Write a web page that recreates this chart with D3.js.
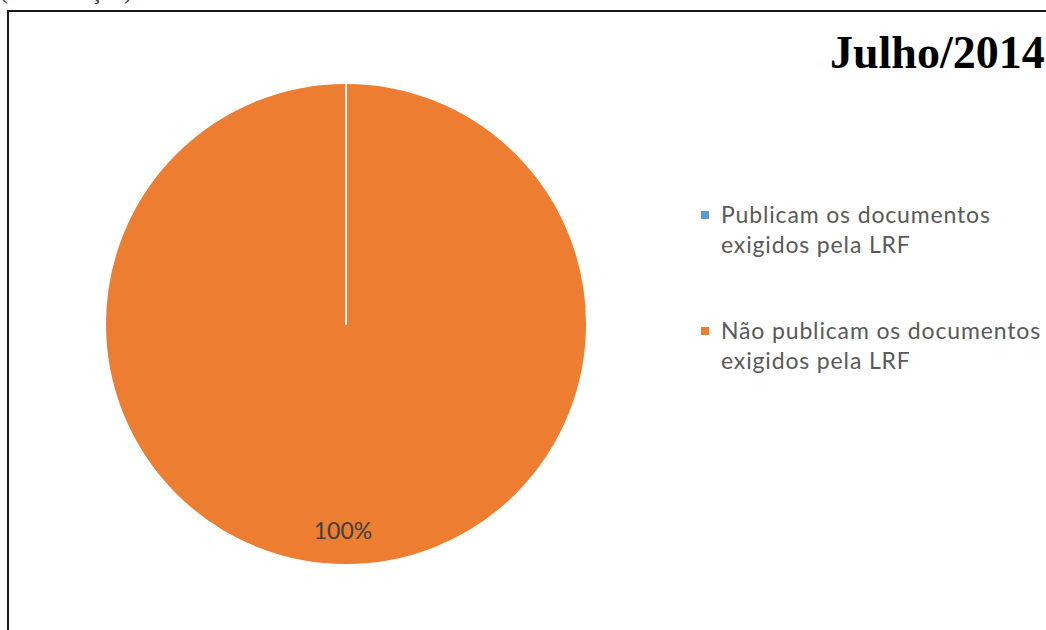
<!DOCTYPE html>
<html>
<head>
<meta charset="utf-8">
<script src="https://cdn.jsdelivr.net/npm/d3@7/dist/d3.min.js"></script>
<style>
  html, body { margin: 0; padding: 0; background: #fff; overflow: hidden; }
  svg { display: block; }
</style>
</head>
<body>
<svg id="chart" width="1046" height="630"></svg>
<script>
// Chart data
const title = "Julho/2014";
const categories = [
  ["Publicam os documentos", "exigidos pela LRF"],
  ["Não publicam os documentos", "exigidos pela LRF"]
];
const values = [0, 100];
const colors = ["#5B9BD5", "#ED7D31"];
const caption = "(continuação)";

const svg = d3.select("#chart");
const W = 1046, H = 630;

// caption line above the frame (its top runs off the page)
svg.append("text")
  .attr("x", 0).attr("y", -1)
  .attr("font-family", "Liberation Serif, Times New Roman, serif")
  .attr("font-size", 24)
  .attr("fill", "#333")
  .text(caption);

// chart frame
svg.append("rect")
  .attr("x", 8).attr("y", 11)
  .attr("width", W + 40).attr("height", H + 40)
  .attr("fill", "#fff")
  .attr("stroke", "#1a1a1a")
  .attr("stroke-width", 2);

// title
svg.append("text")
  .attr("x", 830).attr("y", 68)
  .attr("font-family", "Liberation Serif, Times New Roman, serif")
  .attr("font-weight", "bold")
  .attr("font-size", 46)
  .attr("fill", "#000")
  .text(title);

// pie
const cx = 346, cy = 324, R = 241;
const pie = d3.pie().sort(null).value(d => d);
const arcs = pie(values);
const arc = d3.arc().innerRadius(0).outerRadius(R);
const color = d3.scaleOrdinal().domain(d3.range(values.length)).range(colors);

const g = svg.append("g").attr("transform", `translate(${cx},${cy})`);
// slice fills
g.selectAll("path.slice")
  .data(arcs)
  .join("path")
  .attr("class", "slice")
  .attr("d", arc)
  .attr("fill", (d, i) => color(i));
// slice borders on top of all fills, so an empty slice still shows its edge
g.selectAll("path.edge")
  .data(arcs)
  .join("path")
  .attr("class", "edge")
  .attr("d", arc)
  .attr("fill", "none")
  .attr("stroke", "#fff")
  .attr("stroke-width", 2)
  .attr("stroke-linejoin", "round");

// data label for the non-empty slice
const total = d3.sum(values);
const fmt = d3.format(".0%");
const labelArc = d3.arc().innerRadius(R * 0.86).outerRadius(R * 0.86);
g.selectAll("text.lbl")
  .data(arcs.filter(d => d.value > 0))
  .join("text")
  .attr("class", "lbl")
  .attr("transform", d => {
    // a full circle has no meaningful centroid; put its label near the bottom
    const [x, y] = d.endAngle - d.startAngle >= 2 * Math.PI - 1e-6
      ? [0, R * 0.86]
      : labelArc.centroid(d);
    return `translate(${x - 3},${y})`;
  })
  .attr("text-anchor", "middle")
  .attr("dy", "0.35em")
  .attr("font-family", "Lato, Carlito, Calibri, sans-serif")
  .attr("font-size", 23)
  .attr("fill", "#404040")
  .text(d => fmt(d.value / total));

// legend
const legend = svg.append("g").attr("transform", "translate(701,0)");
const rowY = [215, 331];
const item = legend.selectAll("g.item")
  .data(categories)
  .join("g")
  .attr("class", "item")
  .attr("transform", (d, i) => `translate(0,${rowY[i]})`);
item.append("rect")
  .attr("x", 0).attr("y", -4)
  .attr("width", 8).attr("height", 8)
  .attr("fill", (d, i) => colors[i]);
item.append("text")
  .attr("x", 20).attr("y", 8)
  .attr("font-family", "Lato, Carlito, Calibri, sans-serif")
  .attr("font-size", 23)
  .attr("letter-spacing", 0.85)
  .attr("fill", "#595959")
  .selectAll("tspan")
  .data(d => d)
  .join("tspan")
  .attr("x", 20)
  .attr("dy", (d, j) => j === 0 ? 0 : 30)
  .text(d => d);
</script>
</body>
</html>
